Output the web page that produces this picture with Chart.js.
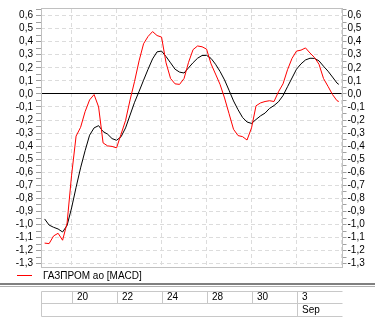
<!DOCTYPE html>
<html><head><meta charset="utf-8">
<script src="https://cdn.jsdelivr.net/npm/chart.js@4"></script>
<style>html,body{margin:0;padding:0;background:#fff}canvas{display:block}</style>
</head><body>
<canvas id="c" width="375" height="324"></canvas>
<script>
// time positions in units of date columns (column boundary 1 = "20", 2 = "22", ...)
const timePos = [0.4,0.5,0.6,0.7,0.8,0.9,1.0,1.1,1.2,1.3,1.4,1.5,1.6,1.7,1.8,1.9,2.0,2.1,2.2,2.3,2.4,2.5,2.6,2.7,2.8,2.9,3.0,3.1,3.2,3.3,3.4,3.5,3.6,3.7,3.8,3.9,4.0,4.1,4.2,4.3,4.4,4.5,4.6,4.7,4.8,4.9,5.0,5.1,5.2,5.3,5.4,5.5,5.6,5.7,5.8,5.9,6.0,6.1,6.2,6.3,6.4,6.5,6.6,6.7,6.8,6.9,6.94];
const macd = [-1.142,-1.146,-1.087,-1.067,-1.120,-0.989,-0.622,-0.323,-0.256,-0.136,-0.046,-0.005,-0.099,-0.375,-0.398,-0.402,-0.413,-0.308,-0.203,-0.046,0.096,0.253,0.384,0.440,0.477,0.447,0.435,0.238,0.118,0.077,0.073,0.118,0.242,0.339,0.367,0.361,0.343,0.230,0.152,0.073,-0.031,-0.151,-0.271,-0.319,-0.327,-0.353,-0.260,-0.091,-0.069,-0.058,-0.052,-0.058,0.017,0.077,0.185,0.272,0.328,0.335,0.352,0.313,0.279,0.227,0.118,0.058,-0.005,-0.052,-0.058];
const signal = [-0.957,-1.004,-1.021,-1.034,-1.057,-1.007,-0.873,-0.715,-0.566,-0.435,-0.316,-0.260,-0.243,-0.288,-0.308,-0.342,-0.355,-0.328,-0.260,-0.162,-0.064,0.019,0.105,0.189,0.268,0.322,0.328,0.286,0.238,0.189,0.167,0.160,0.200,0.239,0.273,0.294,0.295,0.272,0.227,0.172,0.107,0.028,-0.054,-0.121,-0.180,-0.215,-0.226,-0.196,-0.168,-0.147,-0.111,-0.089,-0.060,-0.013,0.055,0.122,0.189,0.230,0.260,0.273,0.272,0.253,0.212,0.174,0.129,0.083,0.073];
const dateLabels = ['20','22','24','28','30','3'];
const datePos = [1,2,3,4,5,6];
const monthLabels = ['Sep'];
const monthPos = [6];
const seriesName = 'ГАЗПРОМ ао [MACD]';
const yMin = -1.325, yMax = 0.65, xMin = 0.32, xMax = 7;

const FONT = '10px "Liberation Sans", Arial, sans-serif';
const isMajor = v => Math.round(v * 100) % 10 === 0;
const fmt = v => (Math.abs(v) < 1e-9 ? 0 : v).toFixed(1).replace('.', ',');

const decor = {
  id: 'decor',
  beforeDraw(chart) {
    const c = chart.ctx; c.save(); c.fillStyle = '#fff'; c.fillRect(0, 0, chart.width, chart.height); c.restore();
  },
  beforeDatasetsDraw(chart) {
    const c = chart.ctx, a = chart.chartArea, y = Math.floor(chart.scales.y.getPixelForValue(0)) + 0.5;
    c.save(); c.strokeStyle = '#000'; c.lineWidth = 1;
    c.beginPath(); c.moveTo(a.left, y); c.lineTo(a.right, y); c.stroke(); c.restore();
  },
  afterDraw(chart) {
    const c = chart.ctx, a = chart.chartArea, xs = chart.scales.x;
    c.save();
    // plot border
    c.strokeStyle = '#c0c0c0'; c.lineWidth = 1;
    c.strokeRect(Math.round(a.left) + 0.5, Math.round(a.top) - 0.5, Math.round(a.right - a.left), Math.round(a.bottom - a.top) + 1);
    // legend
    c.strokeStyle = chart.data.datasets[0].borderColor;
    c.beginPath(); c.moveTo(17, 275.5); c.lineTo(32, 275.5); c.stroke();
    c.fillStyle = '#000'; c.font = FONT; c.textBaseline = 'middle'; c.textAlign = 'left';
    c.fillText(chart.data.datasets[0].label, 43, 276);
    // separator
    c.fillStyle = '#808080'; c.fillRect(0, 283, chart.width, 2);
    c.fillStyle = '#b0b0b0'; c.fillRect(0, 286, chart.width, 1);
    // date table
    const L = Math.round(a.left) + 0.5, R = Math.round(xs.getPixelForValue(xMax)) + 0.5;
    const t1 = 291.5, t2 = 303.5, t3 = 316.5;
    c.strokeStyle = '#c8c8c8'; c.beginPath();
    [t1, t2, t3].forEach(y => { c.moveTo(L, y); c.lineTo(R, y); });
    c.moveTo(L, t1); c.lineTo(L, t3);
    datePos.forEach(p => { const x = Math.round(xs.getPixelForValue(p)) + 0.5; c.moveTo(x, t1); c.lineTo(x, t2); });
    monthPos.forEach(p => { const x = Math.round(xs.getPixelForValue(p)) + 0.5; c.moveTo(x, t2); c.lineTo(x, t3); });
    c.stroke();
    c.fillStyle = '#000';
    dateLabels.forEach((s, i) => c.fillText(s, Math.round(xs.getPixelForValue(datePos[i])) + 5, 297.5));
    monthLabels.forEach((s, i) => c.fillText(s, Math.round(xs.getPixelForValue(monthPos[i])) + 5, 310));
    c.restore();
  }
};

const yAxis = (pos, width, pad) => ({
  type: 'linear', position: pos, min: yMin, max: yMax,
  afterFit: s => { s.width = width; },
  border: { display: false, dash: [4, 3] },
  grid: {
    drawOnChartArea: pos === 'left',
    color: ctx => isMajor(ctx.tick.value) ? '#dcdcdc' : 'rgba(0,0,0,0)',
    tickColor: '#a0a0a0', tickLength: 5, lineWidth: 1
  },
  ticks: {
    stepSize: 0.05, includeBounds: false, autoSkip: false, padding: pad,
    color: '#000', font: { family: '"Liberation Sans", Arial, sans-serif', size: 10 },
    callback: v => isMajor(v) ? fmt(v) : ''
  }
});

new Chart(document.getElementById('c'), {
  type: 'line',
  data: {
    datasets: [
      { label: seriesName, data: timePos.map((t, i) => ({ x: t, y: macd[i] })), borderColor: '#ff0000', borderWidth: 1, pointRadius: 0, tension: 0, fill: false },
      { label: 'signal', data: timePos.map((t, i) => ({ x: t, y: signal[i] })), borderColor: '#000000', borderWidth: 1, pointRadius: 0, tension: 0, fill: false }
    ]
  },
  options: {
    responsive: false, animation: false, devicePixelRatio: 1,
    layout: { padding: { top: 3, bottom: 57, left: 0, right: 0 } },
    plugins: { legend: { display: false }, tooltip: { enabled: false } },
    scales: {
      x: {
        type: 'linear', min: xMin, max: xMax,
        afterFit: s => { s.height = 0; },
        border: { display: false, dash: [4, 3] },
        grid: { color: '#dcdcdc', drawTicks: false, lineWidth: 1 },
        ticks: { display: false, stepSize: 1, includeBounds: false }
      },
      y: yAxis('left', 41, 3),
      y2: yAxis('right', 33.5, 1)
    }
  },
  plugins: [decor]
});
</script>
</body></html>
